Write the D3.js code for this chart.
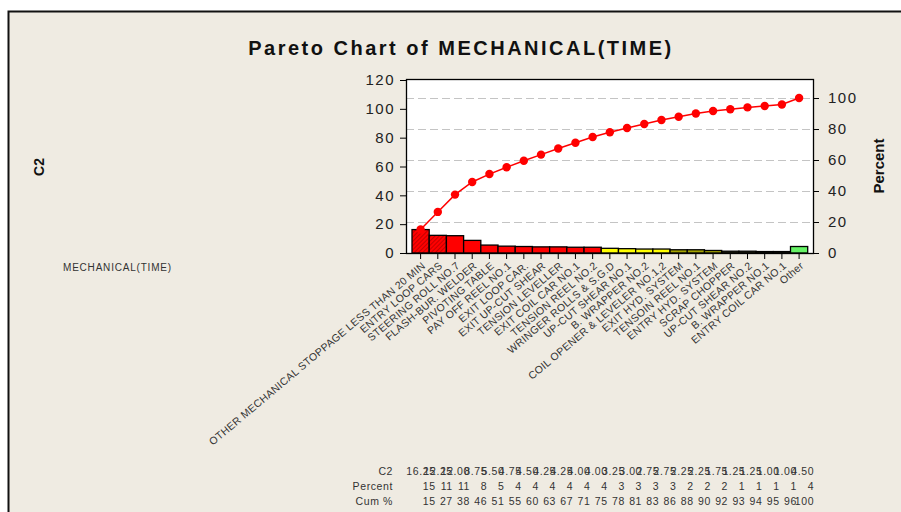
<!DOCTYPE html>
<html>
<head>
<meta charset="utf-8">
<script src="https://cdn.jsdelivr.net/npm/d3@7"></script>
<style>
  html, body { margin: 0; padding: 0; background: #ffffff; }
  svg { display: block; }
  text { font-family: "Liberation Sans", Arial, sans-serif; }
</style>
</head>
<body>
<svg id="chart" width="901" height="512"></svg>
<script>
// ---------- DATA ----------
const categories = [
  "OTHER MECHANICAL STOPPAGE LESS THAN 20 MIN",
  "ENTRY LOOP CARS",
  "STEERING ROLL NO.7",
  "FLASH-BUR. WELDER",
  "PIVOTING TABLE",
  "PAY OFF REEL NO.1",
  "EXIT LOOP CAR.",
  "EXIT UP-CUT SHEAR",
  "TENSION LEVELLER",
  "EXIT COIL CAR NO.1",
  "TENSION REEL NO.2",
  "WRINGER ROLLS & S.G.D",
  "UP-CUT SHEAR NO.1",
  "B. WRAPPER  NO.2",
  "COIL OPENER & LEVELER NO.1,2",
  "EXIT HYD. SYSTEM",
  "TENSOIN REEL NO.1",
  "ENTRY HYD. SYSTEM",
  "SCRAP CHOPPER",
  "UP-CUT SHEAR NO.2",
  "B. WRAPPER  NO.1",
  "ENTRY COIL CAR NO.1",
  "Other"
];
const counts = [16.25, 12.25, 12.00, 8.75, 5.50, 4.75, 4.50, 4.25, 4.25, 4.00, 4.00,
                3.25, 3.00, 2.75, 2.75, 2.25, 2.25, 1.75, 1.25, 1.25, 1.00, 1.00, 4.50];
const percentLabels = ["15","11","11","8","5","4","4","4","4","4","4","3","3","3","3","2","2","2","1","1","1","1","4"];
const cumLabels = ["15","27","38","46","51","55","60","63","67","71","75","78","81","83","86","88","90","92","93","94","95","96","100"];
const leftTicks = [0, 20, 40, 60, 80, 100, 120];
const rightTicks = [0, 20, 40, 60, 80, 100];
const barGroups = ["h","h","r","r","r","r","r","r","r","r","r","y","y","y","y","o","o","o","d","d","d","d","g"];

// ---------- STYLE ----------
const groupFill = { h: "url(#hatch)", r: "#ff0000", y: "#ffff00", o: "#a3a300", d: "#2e2e12", g: "#66f266" };
const bg = "#efebe2";

const svg = d3.select("#chart");
const W = 901, H = 512;

// outer panel
svg.append("rect").attr("x", 0).attr("y", 0).attr("width", W).attr("height", H).attr("fill", "#ffffff");
svg.append("rect").attr("x", 8).attr("y", 11).attr("width", W - 8).attr("height", H - 11).attr("fill", bg);
svg.append("path").attr("d", `M8.5,${H} L8.5,11.5 L${W},11.5`).attr("fill", "none")
   .attr("stroke", "#111").attr("stroke-width", 2);

// defs: hatch pattern
const defs = svg.append("defs");
const pat = defs.append("pattern").attr("id", "hatch").attr("patternUnits", "userSpaceOnUse")
  .attr("width", 3).attr("height", 3).attr("patternTransform", "rotate(45)");
pat.append("rect").attr("width", 3).attr("height", 3).attr("fill", "#ff0000");
pat.append("line").attr("x1", 0).attr("y1", 0).attr("x2", 0).attr("y2", 3)
  .attr("stroke", "#9a0000").attr("stroke-width", 1.2);

// plot geometry
const plot = { left: 406, right: 813, top: 79, bottom: 253 };
const x = d3.scaleBand().domain(categories).range([412, 807.7]).padding(0);
const y = d3.scaleLinear().domain([0, 120]).range([plot.bottom, 80]);
const total = d3.sum(counts);
const yp = d3.scaleLinear().domain([0, 100]).range([plot.bottom, y(total)]);

// plot background
svg.append("rect").attr("x", plot.left).attr("y", plot.top)
  .attr("width", plot.right - plot.left).attr("height", plot.bottom - plot.top).attr("fill", "#ffffff");

// gridlines (percent)
svg.append("g").selectAll("line").data(rightTicks.filter(d => d > 0)).join("line")
  .attr("x1", plot.left).attr("x2", plot.right)
  .attr("y1", d => Math.round(yp(d)) + 0.5).attr("y2", d => Math.round(yp(d)) + 0.5)
  .attr("stroke", "#c4c4c4").attr("stroke-width", 1.2).attr("stroke-dasharray", "8,4");

// bars
svg.append("g").selectAll("rect").data(categories).join("rect")
  .attr("x", d => x(d))
  .attr("y", (d, i) => y(counts[i]))
  .attr("width", x.bandwidth())
  .attr("height", (d, i) => plot.bottom - y(counts[i]))
  .attr("fill", (d, i) => groupFill[barGroups[i]])
  .attr("stroke", "#000").attr("stroke-width", 1.3);

// cumulative line
const cum = d3.cumsum(counts);
const line = d3.line().x((d, i) => x(categories[i]) + x.bandwidth() / 2).y(d => y(d));
svg.append("path").datum(Array.from(cum)).attr("d", line)
  .attr("fill", "none").attr("stroke", "#ff0000").attr("stroke-width", 1.5);
svg.append("g").selectAll("circle").data(Array.from(cum)).join("circle")
  .attr("cx", (d, i) => x(categories[i]) + x.bandwidth() / 2)
  .attr("cy", d => y(d)).attr("r", 4.2).attr("fill", "#ff0000");

// frame
svg.append("rect").attr("x", plot.left + 0.5).attr("y", plot.top + 0.5)
  .attr("width", plot.right - plot.left).attr("height", plot.bottom - plot.top)
  .attr("fill", "none").attr("stroke", "#000").attr("stroke-width", 1.3);

// left axis
const gL = svg.append("g").attr("transform", `translate(${plot.left},0)`)
  .call(d3.axisLeft(y).tickValues(leftTicks).tickSize(6).tickPadding(5));
gL.select(".domain").remove();
gL.selectAll("line").attr("stroke", "#000");
gL.selectAll("text").attr("font-size", 15).attr("letter-spacing", "1.5px").attr("fill", "#222")
  .attr("font-family", "'Liberation Sans', Arial, sans-serif");

// right axis
const gR = svg.append("g").attr("transform", `translate(${plot.right},0)`)
  .call(d3.axisRight(yp).tickValues(rightTicks).tickSize(6).tickPadding(9));
gR.select(".domain").remove();
gR.selectAll("line").attr("stroke", "#000");
gR.selectAll("text").attr("font-size", 15).attr("letter-spacing", "1.5px").attr("fill", "#222")
  .attr("font-family", "'Liberation Sans', Arial, sans-serif");

// bottom axis
const gB = svg.append("g").attr("transform", `translate(0,${plot.bottom})`)
  .call(d3.axisBottom(x).tickSize(6).tickFormat(""));
gB.select(".domain").remove();
gB.selectAll("line").attr("stroke", "#000");

// rotated category labels
svg.append("g").selectAll("text").data(categories).join("text")
  .attr("transform", d => `translate(${x(d) + x.bandwidth() / 2 + 3},${plot.bottom + 11}) rotate(-40)`)
  .attr("text-anchor", "end").attr("dy", "0.35em")
  .attr("font-size", 10.5).attr("letter-spacing", "0.3px").attr("fill", "#333")
  .text(d => d);

// title
svg.append("text").attr("x", 461).attr("y", 55).attr("text-anchor", "middle")
  .attr("font-size", 20).attr("font-weight", "bold").attr("letter-spacing", "2.5px").attr("fill", "#111")
  .text("Pareto Chart of MECHANICAL(TIME)");

// axis titles
svg.append("text").attr("transform", "translate(44,167) rotate(-90)").attr("text-anchor", "middle")
  .attr("font-size", 14).attr("font-weight", "bold").attr("fill", "#111").text("C2");
svg.append("text").attr("transform", "translate(884,166) rotate(-90)").attr("text-anchor", "middle")
  .attr("font-size", 15).attr("font-weight", "bold").attr("fill", "#111").text("Percent");
svg.append("text").attr("x", 63).attr("y", 271)
  .attr("font-size", 10).attr("letter-spacing", "0.8px").attr("fill", "#333").text("MECHANICAL(TIME)");

// table
const fmt = d3.format(".2f");
const rows = [
  { label: "C2", vals: counts.map(fmt), y: 475 },
  { label: "Percent", vals: percentLabels, y: 490 },
  { label: "Cum %", vals: cumLabels, y: 505 }
];
const tg = svg.append("g").attr("font-size", 10.5).attr("letter-spacing", "0.6px").attr("fill", "#333");
rows.forEach(r => {
  tg.append("text").attr("x", 393).attr("y", r.y).attr("text-anchor", "end").text(r.label);
  tg.append("g").selectAll("text").data(r.vals).join("text")
    .attr("x", (d, i) => x(categories[i]) + x.bandwidth() / 2 + 15)
    .attr("y", r.y).attr("text-anchor", "end").text(d => d);
});
</script>
</body>
</html>
